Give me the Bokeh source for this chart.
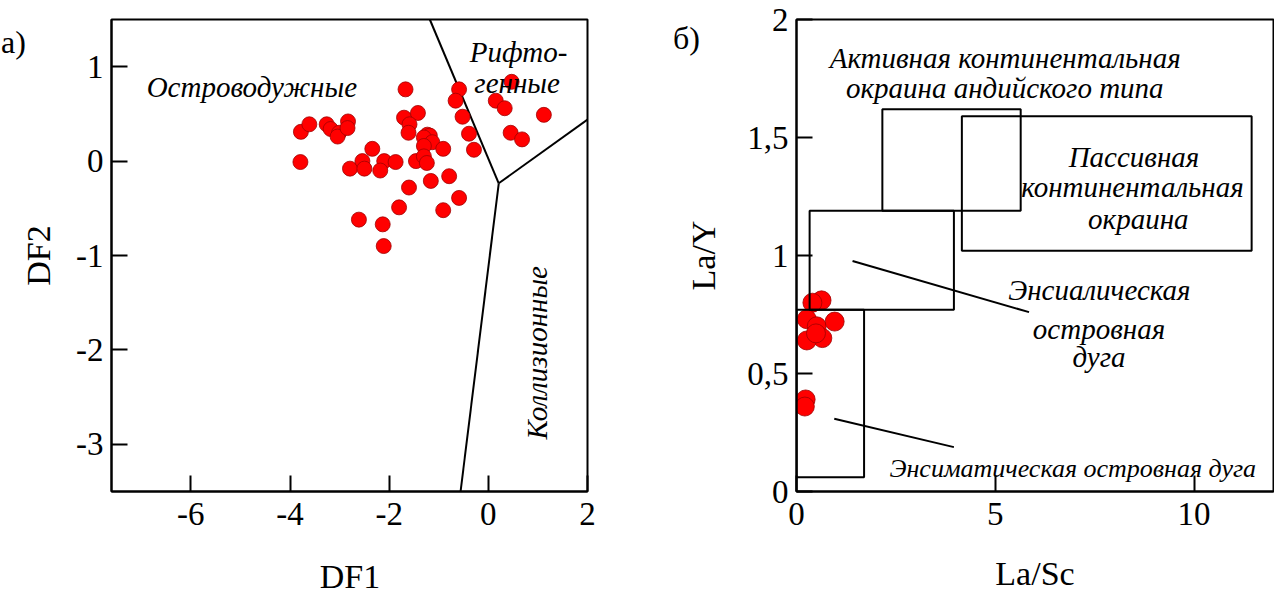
import math
from bokeh.plotting import figure
from bokeh.layouts import row
from bokeh.models import FixedTicker, Label
from bokeh.embed import file_html
from bokeh.resources import INLINE

# ---------------- Panel а) : DF1 vs DF2 ----------------
df1 = [-3.78, -3.61, -3.79, -3.26, -3.18, -3.01, -3.04, -2.83, -2.84, -2.34,
       -2.79, -2.54, -2.50, -2.10, -2.18, -1.87,
       -1.67, -1.70, -1.42, -1.59, -1.61, -1.23, -1.18, -1.30, -1.13, -1.30,
       -0.91, -1.46, -1.30, -1.24,
       -1.60, -1.16, -0.79, -0.59, -0.91, -1.80, -2.61, -2.13, -2.11,
       -0.59, -0.66, -0.52, -0.39, -0.29,
       0.47, 0.15, 0.33, 1.12, 0.45, 0.68]
df2 = [0.31, 0.39, -0.01, 0.39, 0.34, 0.30, 0.26, 0.42, 0.35, 0.13,
       -0.08, 0.00, -0.08, 0.00, -0.10, -0.01,
       0.76, 0.46, 0.51, 0.39, 0.30, 0.28, 0.27, 0.25, 0.20, 0.16,
       0.13, 0.00, 0.05, -0.02,
       -0.28, -0.21, -0.16, -0.39, -0.52, -0.49, -0.62, -0.67, -0.90,
       0.76, 0.64, 0.47, 0.29, 0.12,
       0.84, 0.64, 0.56, 0.49, 0.30, 0.23]

# field boundaries (DF1, DF2)
bound_x = [[-1.18, 0.21], [0.21, 2.0], [0.21, -0.56]]
bound_y = [[1.5, -0.235], [-0.235, 0.44], [-0.235, -3.5]]

xticks_a = [-6, -4, -2, 0, 2]
xlabels_a = {-6: "-6", -4: "-4", -2: "-2", 0: "0", 2: "2"}
yticks_a = [-3, -2, -1, 0, 1]
ylabels_a = {-3: "-3", -2: "-2", -1: "-1", 0: "0", 1: "1"}

# ---------------- Panel б) : La/Sc vs La/Y ----------------
la_sc = [0.63, 0.40, 0.26, 0.51, 0.96, 0.65, 0.26, 0.49, 0.23, 0.21]
la_y = [0.81, 0.80, 0.73, 0.70, 0.72, 0.65, 0.64, 0.67, 0.39, 0.36]

# field boxes: ensimatic arc, ensialic arc, active margin, passive margin
box_left = [0.0, 0.33, 2.16, 4.16]
box_right = [1.70, 3.96, 5.64, 11.45]
box_bottom = [0.06, 0.77, 1.19, 1.02]
box_top = [0.77, 1.19, 1.62, 1.59]

lead_x0 = [1.41, 0.95]
lead_y0 = [0.977, 0.308]
lead_x1 = [5.85, 3.96]
lead_y1 = [0.76, 0.188]

xticks_b = [0, 5, 10]
yticks_b = [0, 0.5, 1, 1.5, 2]
ylabels_b = {0: "0", 0.5: "0,5", 1: "1", 1.5: "1,5", 2: "2"}

SERIF = "Liberation Serif"
TICK_FS = "33px"
AXLAB_FS = "34px"
ITAL_FS = "29px"


def style(p):
    for ax in (p.xaxis[0], p.yaxis[0]):
        ax.major_tick_in = 16
        ax.major_tick_out = 0
        ax.minor_tick_line_color = None
        ax.axis_line_width = 2
        ax.major_tick_line_width = 2
        ax.major_label_text_font = SERIF
        ax.major_label_text_font_size = TICK_FS
        ax.major_label_text_color = "black"
        ax.axis_label_text_font = SERIF
        ax.axis_label_text_font_size = AXLAB_FS
        ax.axis_label_text_font_style = "normal"
        ax.axis_label_text_color = "black"
    p.xaxis[0].major_label_standoff = 11
    p.yaxis[0].major_label_standoff = 8
    p.outline_line_color = "black"
    p.outline_line_width = 2
    p.outline_line_alpha = 1
    p.xgrid.visible = False
    p.ygrid.visible = False
    p.background_fill_color = "white"
    p.border_fill_color = "white"


def mk(x, y, s, angle=0.0, size=ITAL_FS, style_="italic", align="center",
       baseline="alphabetic"):
    return Label(x=x, y=y, text=s, text_font=SERIF, text_font_size=size,
                 text_font_style=style_, text_align=align,
                 text_baseline=baseline, angle=angle, text_color="black")


# ---------------- figure а) ----------------
p1 = figure(width=640, height=595, x_range=(-7.6, 2), y_range=(-3.5, 1.5),
            min_border_left=111, min_border_right=53, min_border_top=19,
            min_border_bottom=101, output_backend="svg", toolbar_location=None,
            y_axis_label="DF2")
style(p1)
p1.yaxis[0].axis_label_standoff = 16
p1.xaxis[0].ticker = FixedTicker(ticks=xticks_a)
p1.yaxis[0].ticker = FixedTicker(ticks=yticks_a)
p1.xaxis[0].major_label_overrides = xlabels_a
p1.yaxis[0].major_label_overrides = ylabels_a

p1.multi_line(bound_x, bound_y, line_color="black", line_width=2)
p1.scatter(df1, df2, size=15, fill_color="#ff0000", line_color="#a00000",
           line_width=0.8)

p1.add_layout(mk(-4.77, 0.79, "Островодужные"))
p1.add_layout(mk(0.61, 1.16, "Рифто-"))
p1.add_layout(mk(0.58, 0.83, "генные"))
p1.add_layout(mk(0.99, -2.03, "Коллизионные", angle=math.pi / 2))

# x-axis title and panel letter live in side panels (outside the frame)
p1.add_layout(mk(-2.79, -4.40, "DF1", size=AXLAB_FS, style_="normal",
                 baseline="middle"), "below")
p1.add_layout(mk(-9.83, 1.26, "а)", size="32px", style_="normal", align="left",
                 baseline="middle"), "right")

# ---------------- figure б) ----------------
p2 = figure(width=634, height=595, x_range=(0, 12), y_range=(0, 2),
            min_border_left=156, min_border_right=1, min_border_top=19,
            min_border_bottom=104, output_backend="svg", toolbar_location=None,
            y_axis_label="La/Y")
style(p2)
p2.yaxis[0].axis_label_standoff = 22
p2.xaxis[0].ticker = FixedTicker(ticks=xticks_b)
p2.yaxis[0].ticker = FixedTicker(ticks=yticks_b)
p2.yaxis[0].major_label_overrides = ylabels_b

p2.scatter(la_sc, la_y, size=19, fill_color="#ff0000", line_color="#a00000",
           line_width=0.8)
p2.quad(left=box_left, right=box_right, bottom=box_bottom, top=box_top,
        fill_color=None, line_color="black", line_width=2)
p2.segment(x0=lead_x0, y0=lead_y0, x1=lead_x1, y1=lead_y1,
           line_color="black", line_width=2)

p2.add_layout(mk(5.25, 1.836, "Активная континентальная"))
p2.add_layout(mk(5.24, 1.709, "окраина андийского типа"))
p2.add_layout(mk(8.49, 1.416, "Пассивная"))
p2.add_layout(mk(8.45, 1.29, "континентальная"))
p2.add_layout(mk(8.6, 1.156, "окраина"))
p2.add_layout(mk(7.62, 0.852, "Энсиалическая"))
p2.add_layout(mk(7.61, 0.69, "островная"))
p2.add_layout(mk(7.61, 0.57, "дуга"))
p2.add_layout(mk(6.95, 0.0975, "Энсиматическая островная дуга", size="26px"))

p2.add_layout(mk(6.0, -0.347, "La/Sc", size=AXLAB_FS, style_="normal",
                 baseline="middle"), "below")
p2.add_layout(mk(-3.11, 1.921, "б)", size="32px", style_="normal", align="left",
                 baseline="middle"), "left")

layout = row(p1, p2)
open("out.html", "w").write(file_html(layout, INLINE))
